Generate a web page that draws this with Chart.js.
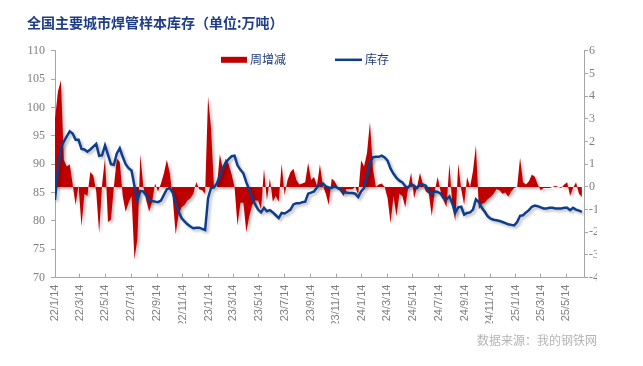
<!DOCTYPE html>
<html>
<head>
<meta charset="utf-8">
<script src="https://cdn.jsdelivr.net/npm/chart.js@4"></script>
<style>
  html, body { margin: 0; padding: 0; background: #fff; }
  canvas { display: block; }
</style>
</head>
<body>
<canvas id="stockChart" width="643" height="366"></canvas>
<script>
// text
const chartTitle = '全国主要城市焊管样本库存（单位:万吨）';
const sourceNote = '数据来源：我的钢铁网';
const seriesNames = ['周增减', '库存'];

// weekly data, first week 2022-01-14
const firstWeek = '2022-01-14';

// 库存 (left axis, 万吨)
const inventory = [
  83.7, 89.0, 92.9, 94.0, 94.9, 95.8, 95.4, 94.3, 94.3, 92.7,
  92.6, 92.2, 92.6, 93.1, 93.6, 91.5, 91.6, 93.3, 91.7, 90.0,
  89.9, 91.9, 92.8, 91.3, 90.0, 89.3, 88.9, 86.1, 83.6, 85.3,
  85.2, 84.5, 83.6, 83.5, 83.4, 83.3, 83.6, 84.6, 85.6, 85.8,
  85.0, 83.3, 81.6, 80.5, 79.9, 79.4, 79.0, 78.7, 78.8, 78.8,
  78.6, 78.4, 84.0, 85.8, 85.9, 86.6, 88.0, 89.3, 90.3, 90.9,
  91.4, 91.5, 89.8, 89.0, 88.4, 86.8, 85.5, 84.0, 82.9, 82.0,
  81.5, 82.3, 81.7, 81.9, 81.5, 81.0, 80.5, 81.4, 81.3, 81.6,
  82.0, 82.9, 83.1, 83.1, 83.3, 83.4, 84.8, 85.0, 85.2, 85.9,
  86.4, 86.6, 86.1, 85.9, 85.8, 86.1, 85.8, 85.5, 85.1, 85.0,
  84.9, 84.9, 84.8, 84.2, 85.2, 85.8, 88.0, 90.3, 91.2, 91.3,
  91.3, 91.5, 91.2, 90.6, 89.2, 88.3, 87.6, 87.1, 86.8, 86.1,
  85.9, 86.5, 86.2, 85.8, 86.4, 86.4, 86.2, 85.2, 84.8, 85.2,
  85.1, 84.8, 84.0, 83.8, 84.3, 83.0, 81.5, 82.4, 82.5, 81.1,
  81.4, 81.5, 82.0, 83.8, 83.3, 82.3, 81.6, 80.8, 80.4, 80.2,
  80.1, 80.0, 79.8, 79.6, 79.4, 79.3, 79.2, 79.8, 80.9, 81.0,
  81.5, 81.9, 82.5, 82.7, 82.6, 82.4, 82.2, 82.2, 82.3, 82.3,
  82.2, 82.2, 82.2, 82.3, 82.3, 81.9, 82.3, 82.0, 81.8, 81.6
];

// 周增减 (right axis)
const weeklyChange = [
  3.0, 4.2, 4.7, 1.2, 0.9, 1.0, 0.1, -0.8, 0.07, -1.75,
  -0.3, -0.4, 0.66, 0.5, -0.2, -2.05, 0.1, 1.3, -1.55, -1.45,
  0.0, 1.25, 1.1, -0.4, -1.1, -0.7, -0.4, -3.2, -2.3, 1.45,
  0.0, -0.6, -1.1, -0.65, 0.15, -0.2, 0.15, 0.6, 1.2, 0.6,
  -0.5, -2.1, -1.2, -0.9, -0.8, -0.6, -0.5, -0.3, 0.22, -0.1,
  -0.15, -0.3, 4.0, 2.6, 0.0, 0.0, 1.45, 0.8, 1.25, 1.0,
  0.55, 0.0, -1.7, -0.7, -0.7, -2.0, -1.3, -0.8, -0.6, -0.6,
  -1.0, 0.8, -0.6, 0.37, -0.66, -0.4, -0.66, 1.03, -0.37, 0.3,
  0.66, 0.8, 0.3, 0.1, 0.15, 0.2, 1.06, 0.3, 0.44, 0.05,
  1.0, 0.05, -0.3, -0.8, 0.37, 0.25, 0.0, -0.2, -0.4, -0.1,
  -0.1, -0.1, 0.0, -0.35, 1.17, 0.9, 1.5, 2.86, 0.8, 0.0,
  0.1, 0.15, 0.0, -0.5, -1.6, -0.4, -1.3, -0.3, -0.4, -0.9,
  0.0, 0.62, -0.5, 0.0, 0.62, 0.1, -0.2, -0.3, -1.3, -0.2,
  0.45, -0.2, -0.6, -0.9, 1.03, -0.9, -1.5, 1.03, -0.1, -0.8,
  0.44, 0.0, 0.7, 1.84, -1.0, -0.75, -0.7, -0.55, -0.45, -0.3,
  -0.1, -0.15, -0.3, -0.25, -0.44, -0.2, -0.05, 0.0, 1.3, 0.2,
  0.1, 0.25, 0.55, 0.45, 0.1, -0.15, -0.05, -0.05, -0.05, 0.0,
  0.05, 0.0, -0.05, 0.1, 0.2, -0.4, -0.05, 0.2, -0.3, -0.45
];

// x tick labels (yy/m/d)
const xTickLabels = [
  '22/1/14', '22/3/14', '22/5/14', '22/7/14', '22/9/14', '22/11/14',
  '23/1/14', '23/3/14', '23/5/14', '23/7/14', '23/9/14', '23/11/14',
  '24/1/14', '24/3/14', '24/5/14', '24/7/14', '24/9/14', '24/11/14',
  '25/1/14', '25/3/14', '25/5/14'
];
const axisEndDate = '2025-06-25';

const DAY = 86400000;
const t0 = Date.parse(firstWeek + 'T00:00:00Z');
const dayOf = (y, m, d) => (Date.UTC(y, m - 1, d) - t0) / DAY;
const tickDays = xTickLabels.map(s => {
  const [yy, m, d] = s.split('/').map(Number);
  return dayOf(2000 + yy, m, d);
});
const axisEndDay = (Date.parse(axisEndDate + 'T00:00:00Z') - t0) / DAY;

const areaColor = '#c00000';
const lineColor = '#0e3d8c';
const axisColor = '#a6a6a6';
const tickColor = '#7f7f7f';

// soft drop shadow like the original
const shadowPlugin = {
  id: 'softShadow',
  beforeDatasetsDraw(chart) {
    const c = chart.ctx;
    c.save();
    c.shadowColor = 'rgba(0,0,0,0.28)';
    c.shadowBlur = 3;
    c.shadowOffsetX = 2;
    c.shadowOffsetY = 2;
  },
  afterDatasetsDraw(chart) {
    chart.ctx.restore();
  }
};

// legend floats inside the plot, so draw it by hand
const floatLegend = {
  id: 'floatLegend',
  afterDraw(chart) {
    const { ctx, chartArea } = chart;
    const ds = chart.data.datasets;
    const y = chartArea.top + 9;
    ctx.save();
    ctx.font = '12px "Noto Sans CJK SC"';
    ctx.textBaseline = 'middle';
    ctx.textAlign = 'left';

    let x = chartArea.left + 166;
    ctx.fillStyle = ds[0].backgroundColor;
    ctx.fillRect(x, y - 3, 26, 6);
    ctx.fillStyle = '#1f3b7a';
    ctx.fillText(ds[0].label, x + 29, y);

    x = chartArea.left + 280;
    ctx.strokeStyle = ds[1].borderColor;
    ctx.lineWidth = 2.5;
    ctx.beginPath();
    ctx.moveTo(x, y);
    ctx.lineTo(x + 27, y);
    ctx.stroke();
    ctx.fillText(ds[1].label, x + 30, y);
    ctx.restore();
  }
};

const ctx = document.getElementById('stockChart').getContext('2d');

new Chart(ctx, {
  type: 'line',
  data: {
    datasets: [
      {
        label: seriesNames[0],
        data: weeklyChange.map((v, i) => ({ x: i * 7, y: v })),
        yAxisID: 'y1',
        backgroundColor: areaColor,
        borderColor: areaColor,
        borderWidth: 0,
        fill: 'origin',
        pointRadius: 0,
        tension: 0,
        order: 2
      },
      {
        label: seriesNames[1],
        data: inventory.map((v, i) => ({ x: i * 7, y: v })),
        yAxisID: 'y',
        borderColor: lineColor,
        borderWidth: 2.5,
        fill: false,
        pointRadius: 0,
        tension: 0,
        order: 1
      }
    ]
  },
  options: {
    responsive: false,
    animation: false,
    devicePixelRatio: 1,
    layout: { padding: { left: 27, right: 46, top: 0, bottom: 0 } },
    plugins: {
      legend: { display: false },
      tooltip: { enabled: false },
      title: {
        display: true,
        text: chartTitle,
        align: 'start',
        color: '#1f3d87',
        font: { family: '"Noto Sans CJK SC"', size: 14, weight: 'bold' },
        padding: { top: 14, bottom: 20 }
      },
      subtitle: {
        display: true,
        text: sourceNote,
        position: 'bottom',
        align: 'end',
        color: '#b4b4b4',
        font: { family: '"Noto Sans CJK SC"', size: 12 },
        padding: { top: 10, bottom: 18 }
      }
    },
    scales: {
      x: {
        type: 'linear',
        min: 0,
        max: axisEndDay,
        grid: { drawOnChartArea: false, tickLength: -4, color: axisColor },
        border: { color: axisColor },
        afterBuildTicks: s => { s.ticks = tickDays.map(v => ({ value: v })); },
        afterFit: s => { s.height = 46; },
        ticks: {
          autoSkip: false,
          maxRotation: 90,
          minRotation: 90,
          padding: 11,
          color: tickColor,
          font: { family: '"Liberation Sans"', size: 11 },
          callback: (v, i) => xTickLabels[i]
        }
      },
      y: {
        position: 'left',
        min: 70,
        max: 110,
        grid: { drawOnChartArea: false, tickLength: 4, color: axisColor },
        border: { color: axisColor },
        afterFit: s => { s.width = 28; },
        ticks: {
          stepSize: 5,
          padding: 6,
          color: tickColor,
          font: { family: '"Liberation Serif"', size: 12 }
        }
      },
      y1: {
        position: 'right',
        min: -4,
        max: 6,
        grid: { drawOnChartArea: false, tickLength: 4, color: axisColor },
        border: { color: axisColor },
        afterFit: s => { s.width = 13; },
        ticks: {
          stepSize: 1,
          padding: 1,
          color: tickColor,
          font: { family: '"Liberation Serif"', size: 12 }
        }
      }
    }
  },
  plugins: [shadowPlugin, floatLegend]
});
</script>
</body>
</html>
